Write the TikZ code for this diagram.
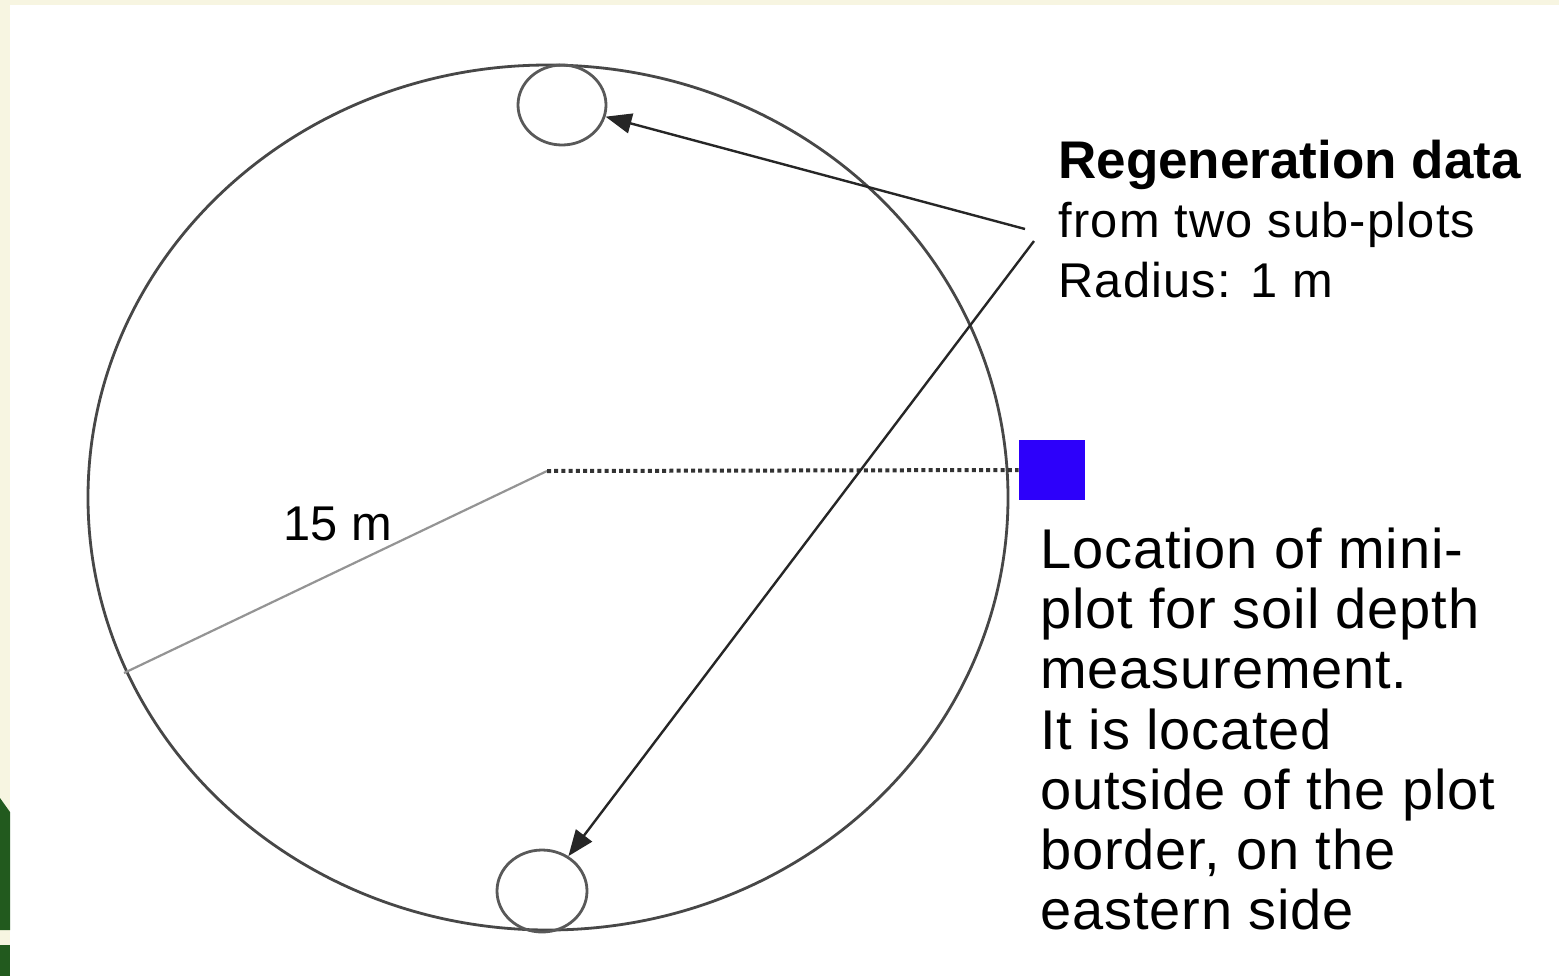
\documentclass[tikz,border=0pt]{standalone}
\usepackage{fontspec}
\setmainfont{Liberation Sans}
\usetikzlibrary{shapes.geometric,arrows.meta}
\definecolor{cream}{RGB}{247,245,225}
\definecolor{leaf}{RGB}{34,90,30}
\definecolor{miniblue}{RGB}{45,0,250}
\begin{document}
\begin{tikzpicture}[x=0.5pt,y=-0.5pt,
  plotring/.style={draw=black!72,line width=1.4pt,ellipse,inner sep=0pt},
  subring/.style={draw=black!65,line width=1.4pt,ellipse,inner sep=0pt},
  radiusline/.style={draw=black!42,line width=1.1pt},
  dotline/.style={draw=black!80,line width=2pt,dash pattern=on 2pt off 1.6pt},
  pointer/.style={draw=black!85,line width=1.2pt,-{Triangle[length=13pt,width=10pt]},shorten >=0pt},
  upbold/.style={anchor=base west,inner sep=0pt,font=\fontsize{26.5pt}{30pt}\selectfont\bfseries},
  upreg/.style={anchor=base west,inner sep=0pt,font=\fontsize{24.4pt}{30pt}\selectfont\addfontfeatures{LetterSpace=2.5}},
  lowreg/.style={anchor=base west,inner sep=0pt,font=\fontsize{28pt}{30pt}\selectfont\addfontfeatures{LetterSpace=1.5}},
  dimlabel/.style={anchor=base west,inner sep=0pt,font=\fontsize{24.4pt}{30pt}\selectfont}
]
% background and frame
\fill[cream] (0,0) rectangle (1559,976);
\fill[white] (10,5) rectangle (1559,976);
\fill[leaf] (0,798) -- (10,812) -- (10,930) -- (0,930) -- cycle;
\fill[leaf] (0,945) rectangle (10,976);
\useasboundingbox (0,0) rectangle (1559,976);

% plot and sub-plots
\node[plotring,minimum width=460pt,minimum height=432.5pt] (plot) at (548,497.5) {};
\node[subring,minimum width=44pt,minimum height=40pt] (top) at (562,105) {};
\node[subring,minimum width=45pt,minimum height=41pt] (bottom) at (542,891) {};
\node[fill=miniblue,minimum width=33pt,minimum height=30pt,inner sep=0pt] (mini) at (1052,470) {};

% radius and dotted line
\coordinate (ctr) at (547,471);
\coordinate (rim) at (124,673);
\draw[radiusline] (ctr) -- (rim);
\draw[dotline] (ctr) -- (mini.west);
\node[dimlabel] (dim) at (283,540) {15 m};

% arrows
\coordinate (s1) at (1025,229);
\coordinate (s2) at (1034,241);
\draw[pointer] (s1) -- (top);
\draw[pointer] (s2) -- (bottom);

% upper text
\node[upbold] (r1) at (1058,178) {Regeneration data};
\node[upreg] (r2) at (1058,237) {from two sub-plots};
\node[upreg] (r3) at (1058,297) {Radius: 1 m};

% lower text
\node[lowreg] (l1) at (1040,568) {Location of mini-};
\node[lowreg] (l2) at (1040,628) {plot for soil depth};
\node[lowreg] (l3) at (1040,688) {measurement.};
\node[lowreg] (l4) at (1040,749) {It is located};
\node[lowreg] (l5) at (1040,809) {outside of the plot};
\node[lowreg] (l6) at (1040,869) {border, on the};
\node[lowreg] (l7) at (1040,929) {eastern side};
\end{tikzpicture}
\end{document}
